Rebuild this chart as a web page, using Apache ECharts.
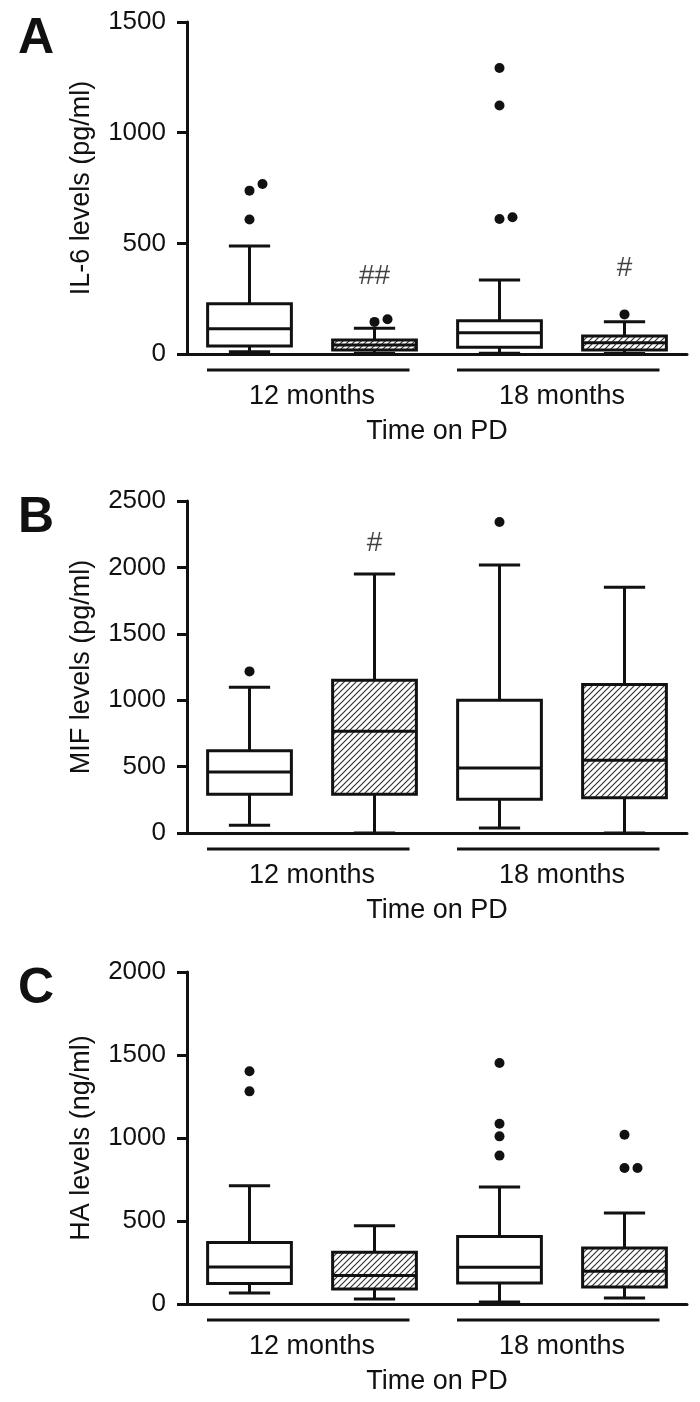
<!DOCTYPE html>
<html>
<head>
<meta charset="utf-8">
<script src="https://cdn.jsdelivr.net/npm/echarts@6/dist/echarts.min.js"></script>
<style>
  html, body { margin: 0; padding: 0; background: #fff; }
  #chart { width: 700px; height: 1402px; }
</style>
</head>
<body>
<div id="chart"></div>
<script>
// ---------------- data ----------------
const boxCategories = ['12 months / group 1', '12 months / group 2', '18 months / group 1', '18 months / group 2'];
const groupLabels = ['12 months', '18 months'];
const xAxisTitle = 'Time on PD';
const panelLetters = ['A', 'B', 'C'];
const yAxisTitles = ['IL-6 levels (pg/ml)', 'MIF levels (pg/ml)', 'HA levels (ng/ml)'];
const yMax = [1500, 2500, 2000];
const yStep = [500, 500, 500];

// box stats per category: [lower whisker, Q1, median, Q3, upper whisker]
const il6Boxes = [
  [10, 36, 114, 227, 488],
  [3, 18, 41, 63, 116],
  [3, 30, 96, 150, 334],
  [2, 18, 51, 81, 146]
];
const il6Outliers = [[0, 768], [0, 738], [0, 608], [1, 145], [1, 157], [2, 1292], [2, 1123], [2, 610], [2, 618], [3, 179]];
const il6Marks = [[1, 349, '##'], [3, 387, '#']];

const mifBoxes = [
  [58, 291, 459, 620, 1097],
  [0, 291, 766, 1150, 1950],
  [38, 254, 489, 999, 2018],
  [0, 266, 547, 1119, 1850]
];
const mifOutliers = [[0, 1217], [2, 2342]];
const mifMarks = [[1, 2179, '#']];

const haBoxes = [
  [66, 124, 223, 371, 713],
  [30, 90, 171, 311, 472],
  [12, 127, 221, 406, 705],
  [36, 102, 197, 337, 548]
];
const haOutliers = [[0, 1402], [0, 1281], [2, 1452], [2, 1086], [2, 1010], [2, 894], [3, 1020], [3, 819], [3, 819]];
const haMarks = [];

// ---------------- styling / layout ----------------
const FONT = "'Liberation Sans', Arial, Helvetica, sans-serif";
const INK = '#111111';
const LW = 3;
const DOT = 10;
const gridTops = [22, 501, 972];
const gridH = 332;
const gridLeft = 187;
const gridRight = 13;

function makeHatch() {
  const s = 6;
  const c = document.createElement('canvas');
  c.width = s; c.height = s;
  const g = c.getContext('2d');
  g.fillStyle = '#ffffff';
  g.fillRect(0, 0, s, s);
  g.strokeStyle = '#333333';
  g.lineWidth = 1.2;
  g.beginPath();
  g.moveTo(0, s); g.lineTo(s, 0);
  g.moveTo(-s / 2, s / 2); g.lineTo(s / 2, -s / 2);
  g.moveTo(s / 2, s * 1.5); g.lineTo(s * 1.5, s / 2);
  g.stroke();
  return c;
}
const hatch = { image: makeHatch(), repeat: 'repeat' };

function boxRender(params, api) {
  const ci = api.value(0);
  const lo = api.value(1), q1 = api.value(2), med = api.value(3), q3 = api.value(4), hi = api.value(5);
  const bw = api.size([1, 0])[0];
  const boxW = bw * 0.67, capW = bw * 0.33;
  const cx = api.coord([ci, 0])[0];
  const y = v => api.coord([ci, v])[1];
  const lineStyle = { stroke: INK, lineWidth: LW, fill: null };
  const fill = (ci % 2 === 1) ? hatch : '#ffffff';
  return {
    type: 'group',
    children: [
      { type: 'line', shape: { x1: cx, y1: y(hi), x2: cx, y2: y(lo) }, style: lineStyle },
      { type: 'line', shape: { x1: cx - capW / 2, y1: y(hi), x2: cx + capW / 2, y2: y(hi) }, style: lineStyle },
      { type: 'line', shape: { x1: cx - capW / 2, y1: y(lo), x2: cx + capW / 2, y2: y(lo) }, style: lineStyle },
      { type: 'rect', shape: { x: cx - boxW / 2, y: y(q3), width: boxW, height: y(q1) - y(q3) },
        style: { fill: fill, stroke: INK, lineWidth: LW } },
      { type: 'line', shape: { x1: cx - boxW / 2, y1: y(med), x2: cx + boxW / 2, y2: y(med) }, style: lineStyle }
    ]
  };
}

function bracketRender(params, api) {
  const c0 = api.value(0), c1 = api.value(1);
  const bw = api.size([1, 0])[0];
  const base = api.coord([c0, 0]);
  const x0 = base[0] - bw * 0.34;
  const x1 = api.coord([c1, 0])[0] + bw * 0.28;
  const yy = base[1] + 16;
  return { type: 'line', shape: { x1: x0, y1: yy, x2: x1, y2: yy }, style: { stroke: INK, lineWidth: LW } };
}

// place outliers that would overlap side by side
function dodge(outliers, yRange) {
  const pxPerUnit = gridH / yRange;
  const items = outliers.map(o => ({ c: o[0], v: o[1], slot: 0 }));
  const byCat = {};
  items.forEach(it => { (byCat[it.c] = byCat[it.c] || []).push(it); });
  Object.values(byCat).forEach(list => {
    list.sort((a, b) => a.v - b.v);
    let cluster = [];
    const flush = () => {
      cluster.forEach((it, k) => { it.slot = k; });
      cluster = [];
    };
    list.forEach(it => {
      if (cluster.length && (it.v - cluster[cluster.length - 1].v) * pxPerUnit >= DOT + 1) flush();
      cluster.push(it);
    });
    flush();
  });
  return items.map(it => ({ value: [it.c, it.v], symbolOffset: [it.slot * (DOT + 3), 0] }));
}

const panels = [
  { boxes: il6Boxes, outliers: il6Outliers, marks: il6Marks },
  { boxes: mifBoxes, outliers: mifOutliers, marks: mifMarks },
  { boxes: haBoxes, outliers: haOutliers, marks: haMarks }
];

const grid = [], xAxis = [], yAxis = [], series = [], graphic = [];
panels.forEach((p, i) => {
  grid.push({ left: gridLeft, right: gridRight, top: gridTops[i], height: gridH, containLabel: false });
  xAxis.push({
    type: 'category', gridIndex: i, data: boxCategories,
    axisLine: { lineStyle: { color: INK, width: LW } },
    axisTick: { show: false }, axisLabel: { show: false }, splitLine: { show: false }
  });
  xAxis.push({
    type: 'category', gridIndex: i, data: groupLabels, position: 'bottom',
    axisLine: { show: false }, axisTick: { show: false },
    axisLabel: { margin: 29, fontSize: 27, color: INK, fontFamily: FONT },
    name: xAxisTitle, nameLocation: 'middle', nameGap: 64,
    nameTextStyle: { fontSize: 27, color: INK, fontFamily: FONT }
  });
  yAxis.push({
    type: 'value', gridIndex: i, min: 0, max: yMax[i], interval: yStep[i],
    axisLine: { show: true, lineStyle: { color: INK, width: LW } },
    axisTick: { show: true, length: 10, lineStyle: { color: INK, width: LW } },
    axisLabel: { margin: 21, fontSize: 26, color: INK, fontFamily: FONT, formatter: v => String(v) },
    splitLine: { show: false },
    name: yAxisTitles[i], nameLocation: 'middle', nameGap: 92,
    nameTextStyle: { fontSize: 27, color: INK, fontFamily: FONT }
  });
  const xi = i * 2;
  series.push({
    type: 'custom', xAxisIndex: xi, yAxisIndex: i, clip: false,
    renderItem: boxRender,
    data: p.boxes.map((b, ci) => [ci].concat(b)),
    z: 3
  });
  series.push({
    type: 'scatter', xAxisIndex: xi, yAxisIndex: i,
    symbol: 'circle', symbolSize: DOT, itemStyle: { color: INK, opacity: 1 },
    data: dodge(p.outliers, yMax[i]), z: 4
  });
  series.push({
    type: 'custom', xAxisIndex: xi, yAxisIndex: i, clip: false,
    renderItem: bracketRender,
    data: [[0, 1], [2, 3]], z: 2
  });
  if (p.marks.length) {
    series.push({
      type: 'scatter', xAxisIndex: xi, yAxisIndex: i, symbolSize: 0,
      label: { show: true, position: 'inside', formatter: d => d.data[2],
               fontSize: 28, color: INK, fontFamily: FONT },
      data: p.marks, z: 5
    });
  }
  graphic.push({
    type: 'text', left: 18, top: gridTops[i] - 8,
    style: { text: panelLetters[i], font: 'bold 50px ' + FONT, fill: INK }
  });
});

const chart = echarts.init(document.getElementById('chart'), null, { renderer: 'canvas' });
chart.setOption({
  animation: false,
  backgroundColor: '#ffffff',
  grid, xAxis, yAxis, series, graphic
});
</script>
</body>
</html>
